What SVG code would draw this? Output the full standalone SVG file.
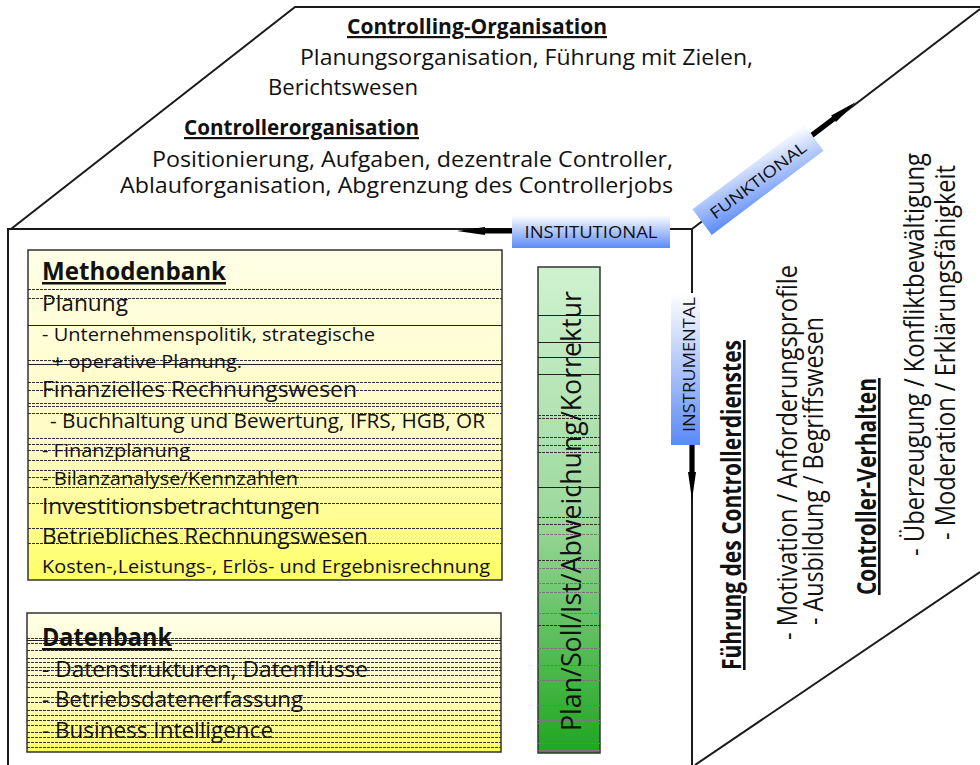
<svg xmlns="http://www.w3.org/2000/svg" width="980" height="765" viewBox="0 0 980 765">
<style>
.edge{fill:none;stroke:#1a1a1a;stroke-width:2}
.t{font-family:'Open Sans','Noto Sans','DejaVu Sans',sans-serif;fill:#111}
.b{font-weight:bold;text-decoration:underline}
.box{stroke:#333;stroke-width:1.5}
.dl{stroke:#333;stroke-width:1;stroke-dasharray:3 1}
.sl{stroke:#222;stroke-width:1}
.gl{stroke:#777;stroke-width:1;stroke-dasharray:3 1}
.arr{fill:#000}
</style>
<defs>
<linearGradient id="gYellow" x1="0" y1="0" x2="0" y2="1"><stop offset="0" stop-color="#ffffe6"/><stop offset="0.6" stop-color="#fffcc2"/><stop offset="1" stop-color="#ffff66"/></linearGradient>
<linearGradient id="gGreen" x1="0" y1="0" x2="0" y2="1"><stop offset="0" stop-color="#cff2cf"/><stop offset="0.5" stop-color="#9fd99f"/><stop offset="1" stop-color="#1fa61f"/></linearGradient>
<linearGradient id="gBlueV" x1="0" y1="0" x2="0" y2="1"><stop offset="0" stop-color="#ffffff"/><stop offset="1" stop-color="#5a8af8"/></linearGradient>
<linearGradient id="gBlueD" x1="0" y1="1" x2="1" y2="0"><stop offset="0" stop-color="#5a8af8"/><stop offset="1" stop-color="#ffffff"/></linearGradient>
<path id="arrow" d="M0,-2.6 H27 V-4 L55,0 L27,4 V2.6 H0 Z"/>
</defs>

<g id="cube">
<polyline class="edge" points="11,229 295,7 980,7"/>
<polyline class="edge" points="8,765 8,229 692,229 692,765"/>
<line class="edge" x1="692" y1="229" x2="980" y2="9" stroke-width="1.6"/>
<line class="edge" x1="695" y1="765" x2="980" y2="572" stroke-width="1.6"/>
</g>

<g id="top-face">
<text class="t b" x="347" y="34" font-size="22" textLength="260" lengthAdjust="spacingAndGlyphs">Controlling-Organisation</text>
<text class="t" x="300" y="65" font-size="21" textLength="453" lengthAdjust="spacingAndGlyphs">Planungsorganisation, Führung mit Zielen,</text>
<text class="t" x="268" y="95" font-size="21" textLength="150" lengthAdjust="spacingAndGlyphs">Berichtswesen</text>
<text class="t b" x="184" y="135" font-size="22" textLength="235" lengthAdjust="spacingAndGlyphs">Controllerorganisation</text>
<text class="t" x="152" y="167" font-size="21" textLength="521" lengthAdjust="spacingAndGlyphs">Positionierung, Aufgaben, dezentrale Controller,</text>
<text class="t" x="120" y="193" font-size="21" textLength="553" lengthAdjust="spacingAndGlyphs">Ablauforganisation, Abgrenzung des Controllerjobs</text>
</g>

<g id="methodenbank">
<rect class="box" x="28" y="250" width="474" height="330" fill="url(#gYellow)"/>
<g transform="translate(0,0.5)">
<line class="dl" x1="28" x2="502" y1="289" y2="289"/>
<line class="dl" x1="28" x2="502" y1="298" y2="298"/>
<line class="sl" x1="28" x2="502" y1="325" y2="325"/>
<line class="dl" x1="28" x2="502" y1="360" y2="360"/>
<line class="sl" x1="28" x2="502" y1="364" y2="364"/>
<line class="dl" x1="28" x2="502" y1="382" y2="382"/>
<line class="dl" x1="28" x2="502" y1="390" y2="390"/>
<line class="dl" x1="28" x2="502" y1="403" y2="403"/>
<line class="dl" x1="28" x2="502" y1="406" y2="406"/>
<line class="dl" x1="28" x2="502" y1="413" y2="413"/>
<line class="dl" x1="28" x2="502" y1="438" y2="438"/>
<line class="dl" x1="28" x2="502" y1="444" y2="444"/>
<line class="dl" x1="28" x2="502" y1="450" y2="450"/>
<line class="dl" x1="28" x2="502" y1="460" y2="460"/>
<line class="dl" x1="28" x2="502" y1="470" y2="470"/>
<line class="dl" x1="28" x2="502" y1="477" y2="477"/>
<line class="dl" x1="28" x2="502" y1="487" y2="487"/>
<line class="dl" x1="28" x2="502" y1="503" y2="503"/>
<line class="dl" x1="28" x2="502" y1="528" y2="528"/>
<line class="dl" x1="28" x2="502" y1="543" y2="543"/>
</g>
<text class="t b" x="42" y="280" font-size="25" textLength="184" lengthAdjust="spacingAndGlyphs">Methodenbank</text>
<text class="t" x="42" y="311" font-size="22" textLength="86" lengthAdjust="spacingAndGlyphs">Planung</text>
<text class="t" x="42" y="341" font-size="19" textLength="333" lengthAdjust="spacingAndGlyphs">- Unternehmenspolitik, strategische</text>
<text class="t" x="52" y="368" font-size="19" textLength="190" lengthAdjust="spacingAndGlyphs">+ operative Planung.</text>
<text class="t" x="42" y="397" font-size="22" textLength="315" lengthAdjust="spacingAndGlyphs">Finanzielles Rechnungswesen</text>
<text class="t" x="50" y="428" font-size="20" textLength="435" lengthAdjust="spacingAndGlyphs">- Buchhaltung und Bewertung, IFRS, HGB, OR</text>
<text class="t" x="42" y="457" font-size="19" textLength="148" lengthAdjust="spacingAndGlyphs">- Finanzplanung</text>
<text class="t" x="42" y="485" font-size="19" textLength="256" lengthAdjust="spacingAndGlyphs">- Bilanzanalyse/Kennzahlen</text>
<text class="t" x="42" y="514" font-size="22" textLength="278" lengthAdjust="spacingAndGlyphs">Investitionsbetrachtungen</text>
<text class="t" x="42" y="544" font-size="22" textLength="326" lengthAdjust="spacingAndGlyphs">Betriebliches Rechnungswesen</text>
<text class="t" x="42" y="573" font-size="19" textLength="448" lengthAdjust="spacingAndGlyphs">Kosten-,Leistungs-, Erlös- und Ergebnisrechnung</text>
</g>

<g id="datenbank">
<rect class="box" x="27" y="613" width="474" height="139" fill="url(#gYellow)"/>
<g transform="translate(0,0.5)">
<line class="dl" x1="27" x2="501" y1="638" y2="638"/>
<line class="sl" x1="27" x2="501" y1="640" y2="640"/>
<line class="dl" x1="27" x2="501" y1="643" y2="643"/>
<line class="dl" x1="27" x2="501" y1="650" y2="650"/>
<line class="dl" x1="27" x2="501" y1="658" y2="658"/>
<line class="dl" x1="27" x2="501" y1="662" y2="662"/>
<line class="dl" x1="27" x2="501" y1="667" y2="667"/>
<line class="dl" x1="27" x2="501" y1="670" y2="670"/>
<line class="dl" x1="27" x2="501" y1="675" y2="675"/>
<line class="dl" x1="27" x2="501" y1="682" y2="682"/>
<line class="dl" x1="27" x2="501" y1="687" y2="687"/>
<line class="dl" x1="27" x2="501" y1="697" y2="697"/>
<line class="dl" x1="27" x2="501" y1="702" y2="702"/>
<line class="dl" x1="27" x2="501" y1="710" y2="710"/>
<line class="dl" x1="27" x2="501" y1="715" y2="715"/>
<line class="dl" x1="27" x2="501" y1="720" y2="720"/>
<line class="dl" x1="27" x2="501" y1="725" y2="725"/>
<line class="dl" x1="27" x2="501" y1="732" y2="732"/>
<line class="dl" x1="27" x2="501" y1="737" y2="737"/>
<line class="dl" x1="27" x2="501" y1="742" y2="742"/>
<line class="dl" x1="27" x2="501" y1="747" y2="747"/>
</g>
<text class="t b" x="42" y="646" font-size="25" textLength="130" lengthAdjust="spacingAndGlyphs">Datenbank</text>
<text class="t" x="42" y="677" font-size="22" textLength="326" lengthAdjust="spacingAndGlyphs">- Datenstrukturen, Datenflüsse</text>
<text class="t" x="42" y="707" font-size="22" textLength="261" lengthAdjust="spacingAndGlyphs">- Betriebsdatenerfassung</text>
<text class="t" x="42" y="738" font-size="22" textLength="231" lengthAdjust="spacingAndGlyphs">- Business Intelligence</text>
</g>

<g id="plan-bar">
<rect class="box" x="538" y="267" width="62" height="486" fill="url(#gGreen)"/>
<g transform="translate(0,0.5)">
<line class="sl" x1="538" x2="600" y1="315" y2="315"/>
<line class="sl" x1="538" x2="600" y1="342" y2="342"/>
<line class="sl" x1="538" x2="600" y1="357" y2="357"/>
<line class="sl" x1="538" x2="600" y1="374" y2="374"/>
<line class="dl" x1="538" x2="600" y1="415" y2="415"/>
<line class="dl" x1="538" x2="600" y1="418" y2="418"/>
<line class="dl" x1="538" x2="600" y1="437" y2="437"/>
<line class="dl" x1="538" x2="600" y1="445" y2="445"/>
<line class="dl" x1="538" x2="600" y1="452" y2="452"/>
<line class="sl" x1="538" x2="600" y1="487" y2="487"/>
<line class="dl" x1="538" x2="600" y1="517" y2="517"/>
<line class="dl" x1="538" x2="600" y1="524" y2="524"/>
<line class="gl" x1="538" x2="600" y1="534" y2="534"/>
<line class="dl" x1="538" x2="600" y1="560" y2="560"/>
<line class="gl" x1="538" x2="600" y1="568" y2="568"/>
<line class="gl" x1="538" x2="600" y1="583" y2="583"/>
<line class="gl" x1="538" x2="600" y1="592" y2="592"/>
<line class="gl" x1="538" x2="600" y1="613" y2="613"/>
<line class="dl" x1="538" x2="600" y1="625" y2="625"/>
<line class="gl" x1="538" x2="600" y1="648" y2="648"/>
<line class="gl" x1="538" x2="600" y1="665" y2="665"/>
<line class="gl" x1="538" x2="600" y1="680" y2="680"/>
<line class="gl" x1="538" x2="600" y1="705" y2="705"/>
<line class="gl" x1="538" x2="600" y1="720" y2="720"/>
<line class="gl" x1="538" x2="600" y1="723" y2="723"/>
<line class="gl" x1="538" x2="600" y1="743" y2="743"/>
<line class="gl" x1="538" x2="600" y1="750" y2="750"/>
</g>
<text class="t" transform="translate(581,731) rotate(-90)" font-size="28" textLength="440" lengthAdjust="spacingAndGlyphs">Plan/Soll/Ist/Abweichung/Korrektur</text>
</g>

<g id="connectors">
<use href="#arrow" class="arr" transform="translate(512,231) rotate(180)"/>
<use href="#arrow" class="arr" transform="translate(692,445) rotate(90)"/>
<use href="#arrow" class="arr" transform="translate(812,135) rotate(-37)"/>
</g>

<g id="institutional">
<rect x="512" y="215" width="158" height="33" fill="url(#gBlueV)"/>
<text class="t" x="591" y="238" font-size="17" text-anchor="middle" textLength="133" lengthAdjust="spacingAndGlyphs">INSTITUTIONAL</text>
</g>

<g id="instrumental">
<rect x="671" y="293" width="29" height="152" fill="url(#gBlueV)"/>
<text class="t" transform="translate(695,432) rotate(-90)" font-size="17" textLength="135" lengthAdjust="spacingAndGlyphs">INSTRUMENTAL</text>
</g>

<g id="funktional" transform="translate(758,180) rotate(-37)">
<rect x="-70" y="-16" width="140" height="32" fill="url(#gBlueD)"/>
<text class="t" x="0" y="6" font-size="16" text-anchor="middle" textLength="116" lengthAdjust="spacingAndGlyphs">FUNKTIONAL</text>
</g>

<g id="right-face">
<text class="t b" transform="translate(741,670) rotate(-90)" font-size="26" textLength="330" lengthAdjust="spacingAndGlyphs">Führung des Controllerdienstes</text>
<text class="t" transform="translate(797,640) rotate(-90)" font-size="28" textLength="375" lengthAdjust="spacingAndGlyphs">- Motivation / Anforderungsprofile</text>
<text class="t" transform="translate(823,625) rotate(-90)" font-size="28" textLength="308" lengthAdjust="spacingAndGlyphs">- Ausbildung / Begriffswesen</text>
<text class="t b" transform="translate(876,595) rotate(-90)" font-size="26" textLength="217" lengthAdjust="spacingAndGlyphs">Controller-Verhalten</text>
<text class="t" transform="translate(924,556) rotate(-90)" font-size="28" textLength="403" lengthAdjust="spacingAndGlyphs">- Überzeugung / Konfliktbewältigung</text>
<text class="t" transform="translate(955,540) rotate(-90)" font-size="28" textLength="375" lengthAdjust="spacingAndGlyphs">- Moderation / Erklärungsfähigkeit</text>
</g>
</svg>
